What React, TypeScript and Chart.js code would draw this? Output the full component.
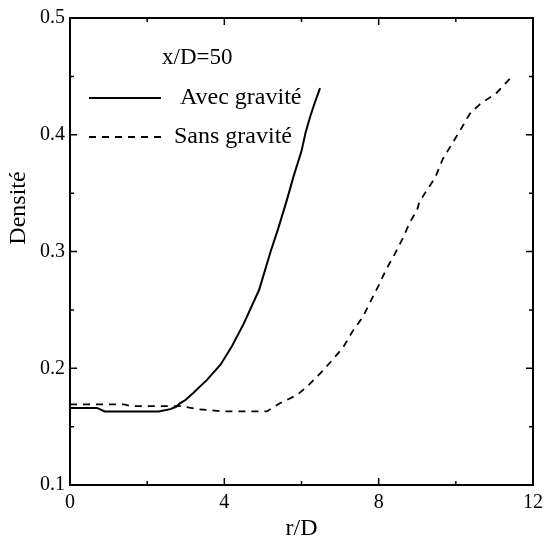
import React, { useEffect, useRef } from "react";
import { Chart, registerables } from "chart.js";

Chart.register(...registerables);

const avecX = [0, 0.7, 0.9, 2.3, 2.6, 2.75, 2.85, 3.0, 3.2, 3.55, 3.9, 4.2, 4.5, 4.9, 5.2, 5.4, 5.62, 5.8, 6.0, 6.1, 6.22, 6.35, 6.48];
const avecY = [0.166, 0.166, 0.163, 0.163, 0.165, 0.167, 0.170, 0.173, 0.179, 0.190, 0.203, 0.219, 0.238, 0.267, 0.300, 0.320, 0.344, 0.365, 0.386, 0.401, 0.415, 0.428, 0.440];

const sansX = [0, 1.4, 1.6, 2.9, 3.3, 4.0, 5.1, 5.44, 5.88, 6.17, 6.5, 6.8, 7.08, 7.33, 7.59, 7.8, 8.0, 8.2, 8.42, 8.62, 8.81, 9.0, 9.05, 9.2, 9.46, 9.66, 9.84, 10.1, 10.36, 10.62, 11.06, 11.4];
const sansY = [0.169, 0.169, 0.1675, 0.1675, 0.165, 0.163, 0.163, 0.170, 0.177, 0.185, 0.196, 0.207, 0.218, 0.232, 0.244, 0.258, 0.271, 0.285, 0.298, 0.311, 0.325, 0.336, 0.342, 0.350, 0.363, 0.379, 0.389, 0.403, 0.418, 0.426, 0.436, 0.448];

const xMajorTicks = [0, 4, 8, 12];
const xMinorTicks = [2, 6, 10];
const yMajorTicks = [0.1, 0.2, 0.3, 0.4, 0.5];
const yMinorTicks = [0.15, 0.25, 0.35, 0.45];

const seriesNames = ["Avec gravité", "Sans gravité"];
const annotationText = "x/D=50";
const xTitle = "r/D";
const yTitle = "Densité";

const FONT = "'Liberation Serif', 'Times New Roman', serif";

const framePlugin = {
  id: "frame",
  afterDraw(chart: any) {
    const ctx = chart.ctx;
    const { left, right, top, bottom } = chart.chartArea;
    const xs = chart.scales.x;
    const ys = chart.scales.y;
    ctx.save();
    ctx.strokeStyle = "#000";
    ctx.lineWidth = 2;
    ctx.strokeRect(left, top, right - left, bottom - top);
    ctx.lineWidth = 1.5;
    const major = 7;
    const minor = 4;
    const drawX = (v: number, len: number) => {
      const px = xs.getPixelForValue(v);
      ctx.beginPath();
      ctx.moveTo(px, bottom);
      ctx.lineTo(px, bottom - len);
      ctx.moveTo(px, top);
      ctx.lineTo(px, top + len);
      ctx.stroke();
    };
    const drawY = (v: number, len: number) => {
      const py = ys.getPixelForValue(v);
      ctx.beginPath();
      ctx.moveTo(left, py);
      ctx.lineTo(left + len, py);
      ctx.moveTo(right, py);
      ctx.lineTo(right - len, py);
      ctx.stroke();
    };
    xMajorTicks.forEach((v) => drawX(v, major));
    xMinorTicks.forEach((v) => drawX(v, minor));
    yMajorTicks.forEach((v) => drawY(v, major));
    yMinorTicks.forEach((v) => drawY(v, minor));

    // titles
    ctx.fillStyle = "#000";
    ctx.font = `24px ${FONT}`;
    ctx.textAlign = "center";
    ctx.textBaseline = "middle";
    ctx.fillText(xTitle, (left + right) / 2, 529);
    ctx.save();
    ctx.translate(19, 208);
    ctx.rotate(-Math.PI / 2);
    ctx.fillText(yTitle, 0, 0);
    ctx.restore();

    // legend
    ctx.font = `23px ${FONT}`;
    ctx.textAlign = "left";
    ctx.textBaseline = "middle";
    ctx.fillText(annotationText, 162, 58);
    ctx.font = `24px ${FONT}`;
    ctx.lineWidth = 2;
    ctx.setLineDash([]);
    ctx.beginPath();
    ctx.moveTo(89, 98);
    ctx.lineTo(161, 98);
    ctx.stroke();
    ctx.fillText(seriesNames[0], 180, 98);
    ctx.lineWidth = 1.8;
    ctx.setLineDash([7, 6]);
    ctx.beginPath();
    ctx.moveTo(89, 137);
    ctx.lineTo(161, 137);
    ctx.stroke();
    ctx.setLineDash([]);
    ctx.fillText(seriesNames[1], 174, 137);
    ctx.restore();
  },
};

export default function App() {
  const ref = useRef<HTMLCanvasElement | null>(null);
  useEffect(() => {
    if (!ref.current) return;
    const chart = new Chart(ref.current, {
      type: "line",
      data: {
        datasets: [
          {
            label: seriesNames[0],
            data: avecX.map((x, i) => ({ x, y: avecY[i] })),
            borderColor: "#000",
            borderWidth: 2,
            pointRadius: 0,
            tension: 0,
            fill: false,
          },
          {
            label: seriesNames[1],
            data: sansX.map((x, i) => ({ x, y: sansY[i] })),
            borderColor: "#000",
            borderWidth: 1.8,
            borderDash: [7, 6],
            pointRadius: 0,
            tension: 0,
            fill: false,
          },
        ],
      },
      options: {
        animation: false,
        responsive: false,
        layout: { padding: { left: 0, right: 16, top: 18, bottom: 0 } },
        plugins: { legend: { display: false }, tooltip: { enabled: false } },
        scales: {
          x: {
            type: "linear",
            min: 0,
            max: 12,
            afterFit: (s: any) => {
              s.height = 57;
            },
            afterBuildTicks: (s: any) => {
              s.ticks = xMajorTicks.map((v) => ({ value: v }));
            },
            grid: { display: false, drawTicks: false },
            border: { display: false },
            ticks: {
              color: "#000",
              padding: 6,
              font: { family: FONT, size: 20 },
              maxRotation: 0,
              callback: (v: any) => String(v),
            },
          },
          y: {
            type: "linear",
            min: 0.1,
            max: 0.5,
            afterFit: (s: any) => {
              s.width = 70;
            },
            afterBuildTicks: (s: any) => {
              s.ticks = yMajorTicks.map((v) => ({ value: v }));
            },
            grid: { display: false, drawTicks: false },
            border: { display: false },
            ticks: {
              color: "#000",
              padding: 5,
              font: { family: FONT, size: 20 },
              callback: (v: any) => Number(v).toFixed(1),
            },
          },
        },
      },
      plugins: [framePlugin],
    });
    return () => chart.destroy();
  }, []);
  return (
    <div style={{ position: "absolute", left: 0, top: 0, width: 549, height: 542, background: "#fff" }}>
      <canvas ref={ref} width={549} height={542} style={{ display: "block" }} />
    </div>
  );
}
